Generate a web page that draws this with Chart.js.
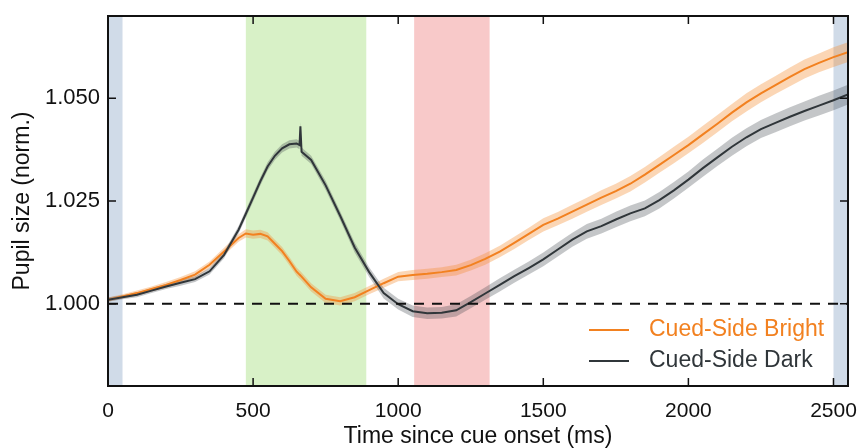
<!DOCTYPE html>
<html>
<head>
<meta charset="utf-8">
<title>Pupil size</title>
<script src="https://cdn.jsdelivr.net/npm/chart.js@4.4.1/dist/chart.umd.min.js"></script>
<style>
  html, body { margin: 0; padding: 0; background: #fff; }
  canvas { display: block; }
</style>
</head>
<body>
<canvas id="pupil" width="862" height="448"></canvas>
<script>
// time since cue onset (ms)
var times = [0, 50, 100, 150, 200, 250, 300, 350, 400, 450,
  475, 500, 525, 550, 575, 600, 625, 650,
  660, 663, 667,
  700, 750, 800, 850, 900, 950, 1000, 1050, 1100, 1150, 1200, 1250, 1300, 1350, 1400, 1450,
  1500, 1550, 1600, 1650, 1700, 1750, 1800, 1850, 1900, 1950, 2000, 2050, 2100, 2150, 2200,
  2250, 2300, 2350, 2400, 2450, 2500, 2550];

// normalised pupil size
var bright = [1.0010, 1.0018, 1.0026, 1.0036, 1.0046, 1.0058, 1.0071, 1.0095, 1.0127, 1.0160,
  1.0171, 1.0168, 1.0170, 1.0164, 1.0146, 1.0128, 1.0104, 1.0078,
  1.0071, 1.0069, 1.0066,
  1.0040, 1.0012, 1.0006, 1.0016, 1.0033, 1.0050, 1.0066, 1.0070, 1.0073, 1.0077, 1.0082, 1.0094, 1.0109, 1.0127, 1.0148, 1.0170,
  1.0192, 1.0207, 1.0224, 1.0241, 1.0258, 1.0274, 1.0292, 1.0314, 1.0338, 1.0362, 1.0386, 1.0412, 1.0438, 1.0465, 1.0490,
  1.0512, 1.0532, 1.0552, 1.0571, 1.0586, 1.0600, 1.0612];

var dark = [1.0010, 1.0016, 1.0022, 1.0032, 1.0042, 1.0051, 1.0060, 1.0079, 1.0119, 1.0180,
  1.0219, 1.0258, 1.0298, 1.0334, 1.0360, 1.0378, 1.0388, 1.0390,
  1.0386, 1.0432, 1.0370,
  1.0350, 1.0288, 1.0214, 1.0137, 1.0077, 1.0026, 0.9999, 0.9982, 0.9977, 0.9978, 0.9984, 1.0004, 1.0025, 1.0046, 1.0067, 1.0087,
  1.0108, 1.0132, 1.0156, 1.0176, 1.0189, 1.0205, 1.0220, 1.0232, 1.0252, 1.0276, 1.0302, 1.0330, 1.0356, 1.0382, 1.0405,
  1.0425, 1.0440, 1.0455, 1.0469, 1.0482, 1.0495, 1.0509];

// standard error (half width of the shaded band)
var brightErr = [0.0005, 0.0005, 0.0006, 0.0006, 0.0007, 0.0007, 0.0008, 0.0008, 0.0009, 0.0009,
  0.0010, 0.0010, 0.0010, 0.0010, 0.0010, 0.0010, 0.0010, 0.0010,
  0.0010, 0.0010, 0.0010,
  0.0010, 0.0010, 0.0010, 0.0010, 0.0010, 0.0011, 0.0011, 0.0012, 0.0012, 0.0012, 0.0013, 0.0013, 0.0014, 0.0014, 0.0015, 0.0015,
  0.0016, 0.0016, 0.0017, 0.0017, 0.0018, 0.0018, 0.0019, 0.0019, 0.0019, 0.0020, 0.0020, 0.0021, 0.0021, 0.0021, 0.0022,
  0.0022, 0.0022, 0.0023, 0.0023, 0.0023, 0.0024, 0.0024];

var darkErr = [0.0005, 0.0005, 0.0006, 0.0006, 0.0006, 0.0007, 0.0007, 0.0008, 0.0008, 0.0009,
  0.0010, 0.0010, 0.0010, 0.0010, 0.0010, 0.0010, 0.0010, 0.0010,
  0.0010, 0.0010, 0.0010,
  0.0010, 0.0011, 0.0011, 0.0012, 0.0012, 0.0013, 0.0013, 0.0014, 0.0014, 0.0014, 0.0015, 0.0015, 0.0015, 0.0016, 0.0016, 0.0016,
  0.0017, 0.0017, 0.0017, 0.0018, 0.0018, 0.0019, 0.0019, 0.0019, 0.0020, 0.0020, 0.0020, 0.0021, 0.0021, 0.0022, 0.0022,
  0.0022, 0.0023, 0.0023, 0.0023, 0.0024, 0.0024, 0.0024];

// analysis windows (ms)
var windowStart = [0, 475, 1055, 2500];
var windowEnd = [50, 890, 1315, 2550];
var windowColor = ['#d0dbe8', '#d8f1c7', '#f8c9c9', '#d0dbe8'];

var xTicks = [0, 500, 1000, 1500, 2000, 2500];
var yTicks = [1.000, 1.025, 1.050];
var seriesNames = ['Cued-Side Bright', 'Cued-Side Dark'];

var FONT = '"Liberation Sans", Arial, Helvetica, sans-serif';
var ORANGE = '#f28120';
var DARK = '#30363a';

function pts(vals, sign, err) {
  return times.map(function (t, i) {
    return { x: t, y: vals[i] + (err ? sign * err[i] : 0) };
  });
}

// shaded windows behind the data
var windowsPlugin = {
  id: 'windows',
  beforeDatasetsDraw: function (chart) {
    var ctx = chart.ctx, a = chart.chartArea, x = chart.scales.x;
    ctx.save();
    for (var i = 0; i < windowStart.length; i++) {
      var x0 = Math.max(a.left, x.getPixelForValue(windowStart[i]));
      var x1 = Math.min(a.right, x.getPixelForValue(windowEnd[i]));
      ctx.fillStyle = windowColor[i];
      ctx.fillRect(x0, a.top, x1 - x0, a.bottom - a.top);
    }
    ctx.restore();
  }
};

// box with inward tick marks on every side
var framePlugin = {
  id: 'frame',
  afterDraw: function (chart) {
    var ctx = chart.ctx, a = chart.chartArea;
    var xs = chart.scales.x, ys = chart.scales.y, len = 8;
    ctx.save();
    ctx.strokeStyle = '#111';
    ctx.lineWidth = 1.5;
    ctx.beginPath();
    xTicks.forEach(function (v) {
      var px = xs.getPixelForValue(v);
      ctx.moveTo(px, a.bottom); ctx.lineTo(px, a.bottom - len);
      ctx.moveTo(px, a.top); ctx.lineTo(px, a.top + len);
    });
    yTicks.forEach(function (v) {
      var py = ys.getPixelForValue(v);
      ctx.moveTo(a.left, py); ctx.lineTo(a.left + len, py);
      ctx.moveTo(a.right, py); ctx.lineTo(a.right - len, py);
    });
    ctx.stroke();
    ctx.lineWidth = 2;
    ctx.strokeRect(a.left, a.top, a.right - a.left, a.bottom - a.top);
    ctx.restore();
  }
};

// legend inside the lower right of the plot
var legendPlugin = {
  id: 'innerLegend',
  afterDatasetsDraw: function (chart) {
    var ctx = chart.ctx, a = chart.chartArea;
    var colors = [ORANGE, DARK];
    ctx.save();
    ctx.font = '23px ' + FONT;
    ctx.textBaseline = 'middle';
    ctx.lineWidth = 2;
    for (var i = 0; i < seriesNames.length; i++) {
      var y = a.bottom - 56 + i * 31;
      var x = a.right - 259;
      ctx.strokeStyle = colors[i];
      ctx.beginPath();
      ctx.moveTo(x, y); ctx.lineTo(x + 40, y);
      ctx.stroke();
      ctx.fillStyle = colors[i];
      ctx.fillText(seriesNames[i], x + 60, y);
    }
    ctx.restore();
  }
};

var ctx = document.getElementById('pupil');
new Chart(ctx, {
  type: 'line',
  data: {
    datasets: [
      { data: pts(bright, 1, brightErr), borderWidth: 0, pointRadius: 0, fill: false, order: 10 },
      { data: pts(bright, -1, brightErr), borderWidth: 0, pointRadius: 0, fill: '-1',
        backgroundColor: 'rgba(245,140,50,0.36)', order: 10 },
      { data: pts(dark, 1, darkErr), borderWidth: 0, pointRadius: 0, fill: false, order: 9 },
      { data: pts(dark, -1, darkErr), borderWidth: 0, pointRadius: 0, fill: '-1',
        backgroundColor: 'rgba(60,66,72,0.30)', order: 9 },
      { label: seriesNames[0], data: pts(bright), borderColor: ORANGE, borderWidth: 2,
        pointRadius: 0, fill: false, order: 5 },
      { label: seriesNames[1], data: pts(dark), borderColor: DARK, borderWidth: 2,
        pointRadius: 0, fill: false, order: 4 },
      { data: [{ x: 0, y: 1 }, { x: 2550, y: 1 }], borderColor: '#111', borderWidth: 2,
        borderDash: [10, 8], pointRadius: 0, fill: false, order: 1 }
    ]
  },
  options: {
    responsive: false,
    animation: false,
    devicePixelRatio: 1,
    layout: { padding: { top: 16, right: 14, left: 0, bottom: 0 } },
    plugins: {
      legend: { display: false },
      tooltip: { enabled: false }
    },
    scales: {
      x: {
        type: 'linear',
        min: 0,
        max: 2550,
        afterBuildTicks: function (s) { s.ticks = xTicks.map(function (v) { return { value: v }; }); },
        afterFit: function (s) { s.height = 62; s.paddingLeft = 0; s.paddingRight = 0; },
        grid: { display: false, drawTicks: false },
        border: { display: false },
        ticks: { padding: 13, color: '#111', font: { family: FONT, size: 21 }, maxRotation: 0,
          callback: function (v) { return String(v); } },
        title: { display: true, text: 'Time since cue onset (ms)', color: '#111',
          font: { family: FONT, size: 23, lineHeight: 1 }, padding: { top: 0, bottom: 0 } }
      },
      y: {
        min: 0.98,
        max: 1.07,
        afterBuildTicks: function (s) { s.ticks = yTicks.map(function (v) { return { value: v }; }); },
        afterFit: function (s) { s.width = 108; s.paddingTop = 0; s.paddingBottom = 0; },
        grid: { display: false, drawTicks: false },
        border: { display: false },
        ticks: { padding: 8, color: '#111', font: { family: FONT, size: 22 },
          callback: function (v) { return Number(v).toFixed(3); } },
        title: { display: true, text: 'Pupil size (norm.)', color: '#111',
          font: { family: FONT, size: 23, lineHeight: 1 }, padding: { top: 11, bottom: 0 } }
      }
    }
  },
  plugins: [windowsPlugin, framePlugin, legendPlugin]
});
</script>
</body>
</html>
